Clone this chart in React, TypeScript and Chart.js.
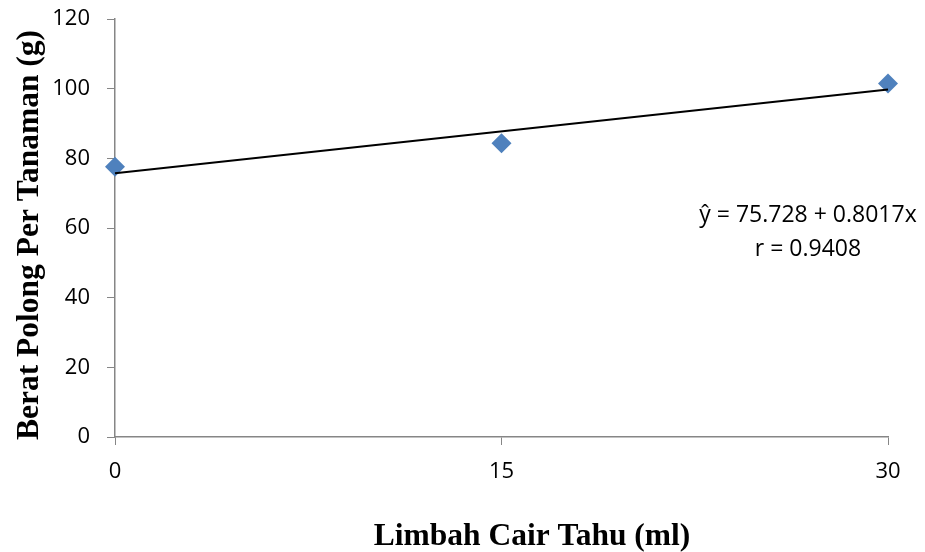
import React, { useEffect, useRef } from "react";
import { Chart, registerables } from "chart.js";

Chart.register(...registerables);

const doses = [0, 15, 30];
const weights = [77.6, 84.3, 101.5];
const intercept = 75.728;
const slope = 0.8017;
const rValue = "0.9408";
const xTicks = [0, 15, 30];
const yMin = 0;
const yMax = 120;
const yStep = 20;
const xTitle = "Limbah Cair Tahu (ml)";
const yTitle = "Berat Polong Per Tanaman (g)";
const eqLines = [`ŷ = ${intercept} + ${slope}x`, `r = ${rValue}`];

const AXIS = "#868686";
const TICK_FONT = { family: "'Open Sans', sans-serif", size: 22 };
const TITLE_CSS = "bold 31.5px 'Liberation Serif', 'Times New Roman', serif";

export default function App() {
  const ref = useRef<HTMLCanvasElement | null>(null);

  useEffect(() => {
    document.body.style.margin = "0";
    const canvas = ref.current;
    if (!canvas) return;

    const trendX = [xTicks[0], xTicks[xTicks.length - 1]];
    const trend = trendX.map((x) => ({ x, y: intercept + slope * x }));

    const overlay = {
      id: "overlay",
      afterDraw(chart: any) {
        const ctx = chart.ctx;
        ctx.save();
        ctx.fillStyle = "#000";
        ctx.font = "23px 'Open Sans', sans-serif";
        ctx.textAlign = "center";
        ctx.textBaseline = "alphabetic";
        ctx.fillText(eqLines[0], 808, 222);
        ctx.fillText(eqLines[1], 808, 256);

        ctx.font = TITLE_CSS;
        ctx.textBaseline = "alphabetic";
        ctx.fillText(xTitle, 532, 545);

        ctx.translate(38, 235);
        ctx.rotate(-Math.PI / 2);
        ctx.fillText(yTitle, 0, 0);
        ctx.restore();
      },
    };

    const chart = new Chart(canvas, {
      type: "scatter",
      data: {
        datasets: [
          {
            type: "line",
            label: "trend",
            data: trend,
            borderColor: "#000",
            borderWidth: 2,
            pointRadius: 0,
            fill: false,
            order: 0,
            clip: false,
          } as any,
          {
            label: "data",
            data: doses.map((x, i) => ({ x, y: weights[i] })),
            backgroundColor: "#4F81BD",
            borderColor: "#4F81BD",
            pointStyle: "rectRot",
            pointRadius: 10,
            pointHoverRadius: 10,
            borderWidth: 0,
            order: 1,
            clip: false,
          },
        ],
      },
      plugins: [overlay],
      options: {
        responsive: false,
        animation: false,
        layout: { padding: { left: 0, right: 37, top: 19, bottom: 0 } },
        plugins: { legend: { display: false }, tooltip: { enabled: false } },
        scales: {
          x: {
            type: "linear",
            min: xTicks[0],
            max: xTicks[xTicks.length - 1],
            afterBuildTicks: (scale: any) => {
              scale.ticks = xTicks.map((v) => ({ value: v }));
            },
            afterFit: (scale: any) => {
              scale.height = 115;
              scale.paddingLeft = 0;
              scale.paddingRight = 0;
            },
            grid: {
              display: true,
              drawOnChartArea: false,
              drawTicks: true,
              tickLength: 8,
              color: AXIS,
            },
            border: { display: true, color: AXIS, width: 1.5 },
            ticks: { color: "#000", font: TICK_FONT, padding: 14, maxRotation: 0 },
            title: { display: false },
          },
          y: {
            type: "linear",
            min: yMin,
            max: yMax,
            ticks: { stepSize: yStep, color: "#000", font: TICK_FONT, padding: 17 },
            afterFit: (scale: any) => {
              scale.width = 115;
              scale.paddingTop = 0;
              scale.paddingBottom = 0;
            },
            grid: {
              display: true,
              drawOnChartArea: false,
              drawTicks: true,
              tickLength: 8,
              color: AXIS,
            },
            border: { display: true, color: AXIS, width: 1.5 },
            title: { display: false },
          },
        },
      },
    } as any);

    return () => chart.destroy();
  }, []);

  return <canvas ref={ref} width={925} height={552} style={{ display: "block" }} />;
}
